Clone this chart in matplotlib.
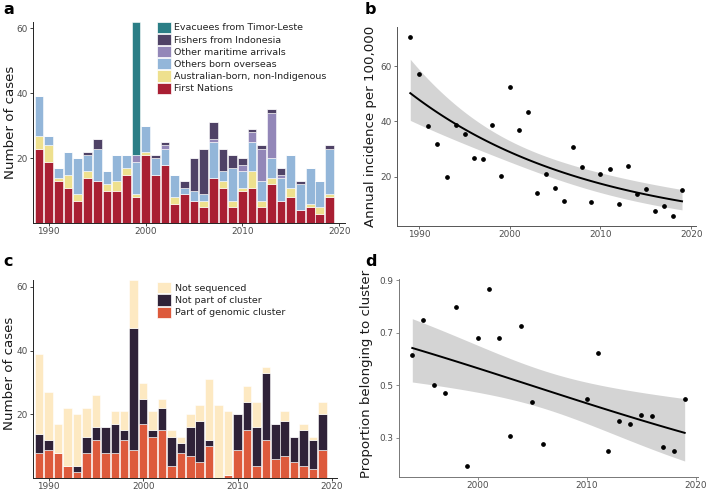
import numpy as np
import matplotlib
matplotlib.use("Agg")
import matplotlib.pyplot as plt
from matplotlib.patches import Patch

plt.rcParams['font.family'] = ['DejaVu Sans']

# ---- data: panel a (cases by group) ----
years = np.arange(1989, 2020)
first_nations = [23, 19, 13, 11, 7, 14, 13, 10, 10, 15, 8, 21, 15, 18, 6, 9,
                 7, 5, 14, 11, 5, 10, 11, 5, 12, 7, 8, 4, 5, 3, 8]
aus_born = [4, 5, 1, 4, 2, 2, 0, 2, 3, 2, 1, 1, 0, 0, 2, 0,
            0, 2, 0, 2, 2, 1, 5, 2, 2, 0, 3, 0, 1, 2, 1]
born_overseas = [12, 3, 3, 7, 11, 5, 10, 4, 8, 4, 10, 8, 5, 5, 7, 2,
                 3, 2, 11, 3, 10, 5, 9, 6, 6, 7, 10, 8, 11, 8, 14]
other_maritime = [0, 0, 0, 0, 0, 0, 0, 0, 0, 0, 2, 0, 0, 1, 0, 0,
                  0, 0, 1, 0, 0, 2, 3, 10, 14, 1, 0, 0, 0, 0, 0]
fishers = [0, 0, 0, 0, 0, 1, 3, 0, 0, 0, 0, 0, 1, 1, 0, 2,
           10, 14, 5, 7, 4, 2, 1, 1, 1, 2, 0, 1, 0, 0, 1]
evacuees = [0, 0, 0, 0, 0, 0, 0, 0, 0, 0, 41, 0, 0, 0, 0, 0,
            0, 0, 0, 0, 0, 0, 0, 0, 0, 0, 0, 0, 0, 0, 0]

# ---- data: panel b (annual incidence per 100,000) ----
incidence = [70.5, 57.1, 38.3, 31.8, 19.9, 38.9, 35.4, 26.9, 26.4, 38.9, 20.5,
             52.5, 36.9, 43.4, 14.3, 20.9, 16.0, 11.2, 30.7, 23.7, 10.8, 21.1,
             22.9, 10.3, 24.0, 13.9, 15.5, 7.7, 9.6, 5.8, 15.1]

# ---- data: panel c (genomic clustering) ----
in_cluster = [8, 9, 8, 4, 2, 8, 12, 8, 8, 12, 9, 17, 13, 15, 4, 8,
              7, 5, 10, 0, 1, 9, 15, 4, 12, 6, 7, 5, 4, 3, 9]
not_cluster = [6, 3, 0, 0, 2, 5, 4, 8, 9, 3, 38, 8, 2, 7, 9, 3,
               9, 13, 2, 0, 0, 11, 9, 12, 21, 11, 11, 8, 11, 9, 11]
not_sequenced = [25, 15, 9, 18, 16, 9, 10, 0, 4, 6, 15, 5, 6, 3, 2, 2,
                 4, 5, 19, 23, 20, 0, 5, 8, 2, 0, 3, 0, 2, 1, 4]

# ---- data: panel d (years shown) ----
d_years = [1994, 1995, 1996, 1997, 1998, 1999, 2000, 2001, 2002, 2003, 2004,
           2005, 2006, 2010, 2011, 2012, 2013, 2014, 2015, 2016, 2017, 2018, 2019]


def glm_band(x, y, w, family, n_grid=100):
    # quasi-likelihood GLM fitted by IRLS, band = fit +/- 1.96 se on link scale
    x = np.asarray(x, float)
    y = np.asarray(y, float)
    w = np.asarray(w, float)
    xc = x.mean()
    X = np.column_stack([np.ones_like(x), x - xc])
    if family == 'poisson':
        eta = np.log(y)
    else:
        eta = np.log((y + 0.01) / (1.01 - y))
    for _ in range(60):
        if family == 'poisson':
            mu = np.exp(eta)
            dmu = mu
            var = mu
        else:
            mu = 1 / (1 + np.exp(-eta))
            dmu = mu * (1 - mu)
            var = mu * (1 - mu)
        z = eta + (y - mu) / dmu
        W = w * dmu ** 2 / var
        beta = np.linalg.solve(X.T @ (W[:, None] * X), X.T @ (W * z))
        eta = X @ beta
    disp = np.sum(w * (y - mu) ** 2 / var) / (len(y) - 2)
    cov = np.linalg.inv(X.T @ (W[:, None] * X)) * disp
    xs = np.linspace(x.min(), x.max(), n_grid)
    G = np.column_stack([np.ones_like(xs), xs - xc])
    eg = G @ beta
    se = np.sqrt(np.einsum('ij,jk,ik->i', G, cov, G))
    inv = np.exp if family == 'poisson' else (lambda e: 1 / (1 + np.exp(-e)))
    return xs, inv(eg), inv(eg - 1.96 * se), inv(eg + 1.96 * se)


def style(ax, spine_col):
    for s in ['top', 'right']:
        ax.spines[s].set_visible(False)
    for s in ['left', 'bottom']:
        ax.spines[s].set_color(spine_col)
        ax.spines[s].set_linewidth(0.7)
    ax.tick_params(length=2.2, width=0.6, color=spine_col, labelsize=6.4,
                   labelcolor='#4d4d4d')
    ax.tick_params(axis='x', pad=0.6)
    ax.tick_params(axis='y', pad=1.6)


fig = plt.figure(figsize=(7.08, 4.9), dpi=100)

# ---------- panel a ----------
ax_a = fig.add_axes([0.0466, 0.5443, 0.4407, 0.4114])
stack_a = [first_nations, aus_born, born_overseas, other_maritime, fishers, evacuees]
names_a = ['First Nations', 'Australian-born, non-Indigenous', 'Others born overseas',
           'Other maritime arrivals', 'Fishers from Indonesia', 'Evacuees from Timor-Leste']
cols_a = ['#a91f33', '#eee08e', '#93b6d9', '#9387b8', '#4f4266', '#2b7e86']
bottom = np.zeros(len(years))
for vals, col in zip(stack_a, cols_a):
    ax_a.bar(years, vals, width=0.9, bottom=bottom, color=col,
             edgecolor='white', linewidth=0.4)
    bottom += np.array(vals)
ax_a.set_xlim(1988.37, 2020.6)
ax_a.set_ylim(0, 62)
ax_a.set_yticks([20, 40, 60])
ax_a.set_xticks([1990, 2000, 2010, 2020])
style(ax_a, '#222222')
ax_a.set_ylabel('Number of cases', fontsize=9.6, color='#1a1a1a')
ax_a.yaxis.set_label_coords(-0.052, 0.5)
handles = [Patch(facecolor=c, edgecolor='white', linewidth=0.5, label=n)
           for c, n in zip(cols_a[::-1], names_a[::-1])]
ax_a.legend(handles=handles, loc='upper left', bbox_to_anchor=(0.397, 1.0),
            frameon=False, fontsize=6.8, borderpad=0, borderaxespad=0,
            handlelength=1.5, handleheight=1.45, labelspacing=0.1,
            handletextpad=0.35, labelcolor='#222222')

# ---------- panel b ----------
ax_b = fig.add_axes([0.5603, 0.5394, 0.4222, 0.4045])
xs, fit, lo, hi = glm_band(years, incidence, np.ones(len(years)), 'poisson')
ax_b.fill_between(xs, lo, hi, color='#d4d4d4', linewidth=0)
ax_b.plot(xs, fit, color='black', linewidth=1.4)
ax_b.plot(years, incidence, 'o', color='black', markersize=2.4)
ax_b.set_ylim(2.4, 73.9)
ax_b.set_xlim(1987.5, 2020.5)
ax_b.set_yticks([20, 40, 60])
ax_b.set_xticks([1990, 2000, 2010, 2020])
style(ax_b, '#555555')
ax_b.set_ylabel('Annual incidence per 100,000', fontsize=9.6, color='#1a1a1a')
ax_b.yaxis.set_label_coords(-0.066, 0.5)

# ---------- panel c ----------
ax_c = fig.add_axes([0.0470, 0.0239, 0.4285, 0.4037])
stack_c = [in_cluster, not_cluster, not_sequenced]
names_c = ['Part of genomic cluster', 'Not part of cluster', 'Not sequenced']
cols_c = ['#dd5a3c', '#2f2238', '#fde9c2']
bottom = np.zeros(len(years))
for vals, col in zip(stack_c, cols_c):
    ax_c.bar(years, vals, width=0.9, bottom=bottom, color=col,
             edgecolor='white', linewidth=0.4)
    bottom += np.array(vals)
ax_c.set_xlim(1988.37, 2020.5)
ax_c.set_ylim(0, 62)
ax_c.set_yticks([20, 40, 60])
ax_c.set_xticks([1990, 2000, 2010, 2020])
style(ax_c, '#222222')
ax_c.set_ylabel('Number of cases', fontsize=9.6, color='#1a1a1a')
ax_c.yaxis.set_label_coords(-0.056, 0.53)
handles = [Patch(facecolor=c, edgecolor='white', linewidth=0.5, label=n)
           for c, n in zip(cols_c[::-1], names_c[::-1])]
ax_c.legend(handles=handles, loc='upper left', bbox_to_anchor=(0.408, 0.992),
            frameon=False, fontsize=6.8, borderpad=0, borderaxespad=0,
            handlelength=1.5, handleheight=1.45, labelspacing=0.12,
            handletextpad=0.35, labelcolor='#222222')

# ---------- panel d ----------
ax_d = fig.add_axes([0.5631, 0.0265, 0.4232, 0.4035])
idx = [list(years).index(y) for y in d_years]
n_seq = np.array([in_cluster[i] + not_cluster[i] for i in idx], float)
prop = np.array([in_cluster[i] for i in idx]) / n_seq
xs, fit, lo, hi = glm_band(d_years, prop, np.ones(len(prop)), 'binomial')
ax_d.fill_between(xs, lo, hi, color='#d4d4d4', linewidth=0)
ax_d.plot(xs, fit, color='black', linewidth=1.4)
ax_d.plot(d_years, prop, 'o', color='black', markersize=2.4)
ax_d.set_ylim(0.151, 0.904)
ax_d.set_xlim(1992.75, 2020.25)
ax_d.set_yticks([0.3, 0.5, 0.7, 0.9])
ax_d.set_xticks([2000, 2010, 2020])
style(ax_d, '#777777')
ax_d.set_ylabel('Proportion belonging to cluster', fontsize=9.6, color='#1a1a1a')
ax_d.yaxis.set_label_coords(-0.086, 0.52)

# panel letters
for lab, x, y in [('a', 3, 14), ('b', 365, 13.5), ('c', 3, 266.5), ('d', 365, 266.5)]:
    fig.text(x / 708, 1 - y / 490, lab, fontsize=11.5, fontweight='bold',
             ha='left', va='baseline')

fig.savefig('out.png', dpi=100)
